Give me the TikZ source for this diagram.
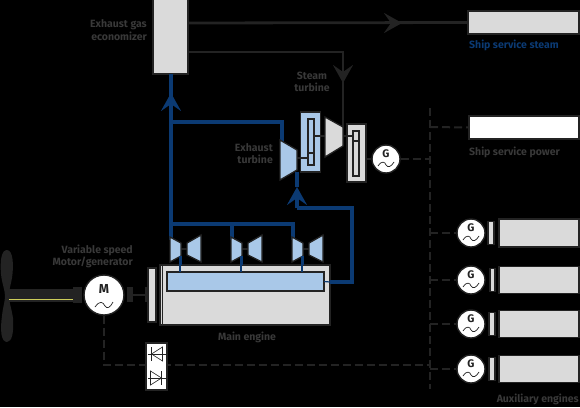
\documentclass[tikz,border=0pt]{standalone}
\usepackage{fontspec}
\setmainfont{Fira Sans}
\usetikzlibrary{arrows.meta}
\definecolor{dk}{HTML}{232323}
\definecolor{bl}{HTML}{0B3A73}
\definecolor{lb}{HTML}{A9C8E8}
\definecolor{gr}{HTML}{DADADA}
\tikzset{
 x=1pt,y=-1pt,
 nb/.style={draw=dk,line width=1.3pt,inner sep=0pt,outer sep=0pt,rectangle},
 grey/.style={nb,fill=gr},
 blue/.style={nb,fill=lb},
 white/.style={nb,fill=white},
 dk line/.style={draw=dk,line width=2.8pt},
 thin line/.style={draw=dk,line width=1.3pt},
 bl line/.style={draw=bl,line width=4pt},
 bus/.style={draw=dk,line width=2pt,dash pattern=on 8pt off 4pt},
 tipb/.style={-{Stealth[length=18pt,width=20pt,inset=7pt]}},
 lab/.style={font=\fontsize{10.5}{12.5}\selectfont\bfseries,text=dk!90!white,inner sep=0pt,align=center},
 gen/.style={circle,draw=dk,line width=1.4pt,fill=white,inner sep=0pt,minimum size=28pt,font=\fontsize{11}{11}\selectfont\bfseries,text=dk},
 turb/.style={draw=dk,line width=1.3pt,line join=miter},
}
\newcommand{\sinew}[2]{\draw[dk,line width=.7pt] (#1-8,#2+7) .. controls (#1-4,#2+1) and (#1-1,#2+3) .. (#1,#2+6) .. controls (#1+2,#2+9) and (#1+5,#2+8) .. (#1+8,#2+3);}
\newcommand{\gset}[5]{%
 \node[gen] (#1) at (471,#2) {};
 \node[font=\fontsize{11}{11}\selectfont\bfseries,text=dk,inner sep=0pt] at (471,#2-5) {G};
 \sinew{471}{#2}
 \node[grey,minimum width=#3pt,minimum height=23pt,fill=gr] (#1f) at (#4,#2) {};
 \node[grey,minimum width=80pt,minimum height=#5pt] (#1b) at (539,#2) {};
}
\begin{document}
\begin{tikzpicture}
\useasboundingbox[fill=black] (0,0) rectangle (580,407);

% propeller and shaft
\fill[dk] (7,250) .. controls (13,250) and (14,265) .. (12,278) .. controls (10,288) and (9,290) .. (9,296)
 .. controls (9,302) and (11,306) .. (13,318) .. controls (14,332) and (12,342) .. (7,342)
 .. controls (1,342) and (0,330) .. (2,316) .. controls (3,306) and (5,302) .. (5,296)
 .. controls (5,290) and (2,284) .. (1,274) .. controls (0,262) and (1,250) .. (7,250) -- cycle;
\fill[dk] (8,289) rectangle (74,302);
\draw[color={rgb,255:red,205;green,205;blue,90},line width=.8pt] (9,299) -- (73,299);
\fill[dk] (73,287) rectangle (82,303);

% main engine
\node[grey,minimum width=170pt,minimum height=60pt] (eng) at (245,295) {};
\draw[white,line width=.8pt] (162,266) -- (162,324);
\node[blue,minimum width=157pt,minimum height=19pt] (scav) at (245.5,281.5) {};
\node[grey,minimum width=8pt,minimum height=54pt] (fl) at (152,295) {};
\node[lab] at (247,337) {Main engine};

% motor
\coordinate (mdown) at (104,365);
\coordinate (rc) at (146,295);
\fill[dk] (127,287) rectangle (133,302);
\draw[thin line] (133,295) -- (fl.west);
\draw[dk,line width=2pt] (146,287) -- (146,302);
\node[gen,minimum size=40pt] (mot) at (104,295) {};
\node[font=\fontsize{13}{13}\selectfont\bfseries,text=dk,inner sep=0pt] at (104,289) {M};
\draw[dk,line width=.7pt] (95,307) .. controls (100,300) and (103,302) .. (105,306) .. controls (107,309) and (110,308) .. (113,302);
\node[lab,align=right,anchor=east] at (133,256.5) {Variable speed\\Motor/generator};

% electrical bus and links
\coordinate (bt) at (430,108);
\coordinate (bb) at (430,389);
\coordinate (b0) at (430,127);
\coordinate (b1) at (430,159);
\coordinate (b2) at (430,233);
\coordinate (b3) at (430,280);
\coordinate (b4) at (430,324);
\coordinate (b5) at (430,369);
\coordinate (b6) at (430,365);
\draw[bus] (bt) -- (bb);
\draw[bus] (mot.south) -- (mdown) -- (b6);

\node[white,minimum width=21pt,minimum height=47pt] (rect) at (156.5,366.5) {};
\foreach \yy/\dir in {354/1,378/-1}{
  \begin{scope}[shift={(156.5,\yy)},xscale=\dir]
  \draw[dk,line width=.6pt] (-9,0) -- (9,0);
  \draw[dk,line width=.6pt] (-5,0) -- (6,-7) -- (6,7) -- cycle;
  \draw[dk,line width=.9pt] (-5,-7) -- (-5,7);
  \end{scope}
}

% auxiliary gensets
\gset{g1}{233}{6}{491}{28}
\gset{g2}{280}{5}{492.5}{27}
\gset{g3}{324}{6}{492}{27}
\gset{g4}{369}{6}{492}{27}
\draw[bus] (b2) -- (g1.west);
\draw[bus] (b3) -- (g2.west);
\draw[bus] (b4) -- (g3.west);
\draw[bus] (b5) -- (g4.west);
\node[lab,anchor=east] at (579,399) {Auxiliary engines};

% economizer and consumers
\node[grey,minimum width=35pt,minimum height=75pt] (eco) at (170.5,36.5) {};
\node[lab,align=right,anchor=east] at (147,30) {Exhaust gas\\economizer};
\node[grey,minimum width=111pt,minimum height=23pt] (steam) at (523.5,22.5) {};
\node[white,minimum width=110pt,minimum height=23pt] (power) at (524,127.5) {};
\node[lab,anchor=west,text=bl] at (469,45) {Ship service steam};
\node[lab,anchor=west] at (469,152) {Ship service power};
\coordinate (e1) at (188,23);
\coordinate (e2) at (188,52);
\coordinate (a1) at (402,23);
\coordinate (c1) at (343,52);
\coordinate (a2) at (343,83);
\coordinate (st) at (343,127);
\draw[dk line] (e1) -- (steam.west);
\draw[dk line,-{Stealth[length=18pt,width=20pt,inset=7pt]}] (e1) -- (a1);
\draw[dk line] (e2) -- (c1) -- (st);
\draw[dk line,-{Stealth[length=18pt,width=20pt,inset=7pt]}] (c1) -- (a2);
\draw[bus] (b0) -- (power.west);

% exhaust gas piping
\coordinate (j0) at (171,224);
\coordinate (j1) at (232,224);
\coordinate (j2) at (293,224);
\coordinate (jb) at (171,122);
\coordinate (jt) at (282,122);
\coordinate (et) at (282,142);
\coordinate (a3) at (171,93);
\coordinate (h0) at (171,240);
\coordinate (h1) at (232,240);
\coordinate (h2) at (293,240);
\draw[bl line] (eco.south -| j0) -- (h0);
\draw[bl line,tipb] (j0) -- (a3);
\draw[bl line] (jb) -- (jt) -- (et);
\draw[bl line] (j0) -- (j2) -- (h2);
\draw[bl line] (j1) -- (h1);

% turbochargers
\foreach \dx/\nm in {0/a,61/b,122/c}{
  \begin{scope}[xshift=\dx pt]
  \draw[thin line] (181,249) -- (187,249);
  \draw[turb,fill=lb] (170,237) -- (181,243) -- (181,256) -- (170,262) -- cycle;
  \draw[turb,fill=lb] (187,243) -- (201,235) -- (201,262) -- (187,255) -- cycle;
  \coordinate (tb\nm) at (180,256);
  \coordinate (tm\nm) at (180,265);
  \coordinate (ts\nm) at (180,272);
  \end{scope}
  \draw[bl line,line width=3pt] (tb\nm) -- (tm\nm);
  \draw[draw=bl,line width=1.2pt] (tm\nm) -- (ts\nm);
}

% power turbine branch
\coordinate (r0) at (330,282);
\coordinate (r1) at (352,282);
\coordinate (r2) at (352,208);
\coordinate (r3) at (297,208);
\coordinate (r4) at (297,172);
\draw[draw=bl,line width=1.2pt] (scav.east) -- (r0);
\draw[bl line] (r0) -- (r1) -- (r2) -- (r3);
\draw[bl line,-{Stealth[length=18pt,width=20pt,inset=7pt]}] (r3) -- (297,187);
\draw[bl line] (297,187) -- (r4);

% exhaust turbine, gearbox
\node[blue,minimum width=20pt,minimum height=60pt] (gb1) at (310.5,142) {};
\node[nb,fill=lb,minimum width=6pt,minimum height=46pt] (gi1) at (311,142) {};
\draw[thin line] (308,153) -- (314,153);
\draw[thin line] (297,158) -- (gi1.west |- 0,158);
\draw[thin line] (314,136) -- (325,136);
\draw[turb,fill=lb] (280,140) -- (297,150) -- (297,170) -- (280,180) -- cycle;
\draw[turb,fill=gr] (325,117) -- (343,127) -- (343,146) -- (325,157) -- cycle;
\node[grey,minimum width=19pt,minimum height=58pt] (gb2) at (356.5,153) {};
\node[grey,minimum width=6pt,minimum height=45pt] (gi2) at (356,153.5) {};
\draw[thin line] (353,141) -- (359,141);
\draw[thin line] (343,136) -- (353,136);
\node[lab] at (312,82) {Steam\\turbine};
\node[lab,align=right,anchor=east] at (273,153.5) {Exhaust\\turbine};

\node[gen] (g0) at (386,159) {};
\node[font=\fontsize{11}{11}\selectfont\bfseries,text=dk,inner sep=0pt] at (386,154) {G};
\sinew{386}{159}
\draw[thin line] (gb2.east |- g0) -- (g0.west);
\draw[bus] (g0.east) -- (b1);
\end{tikzpicture}
\end{document}
